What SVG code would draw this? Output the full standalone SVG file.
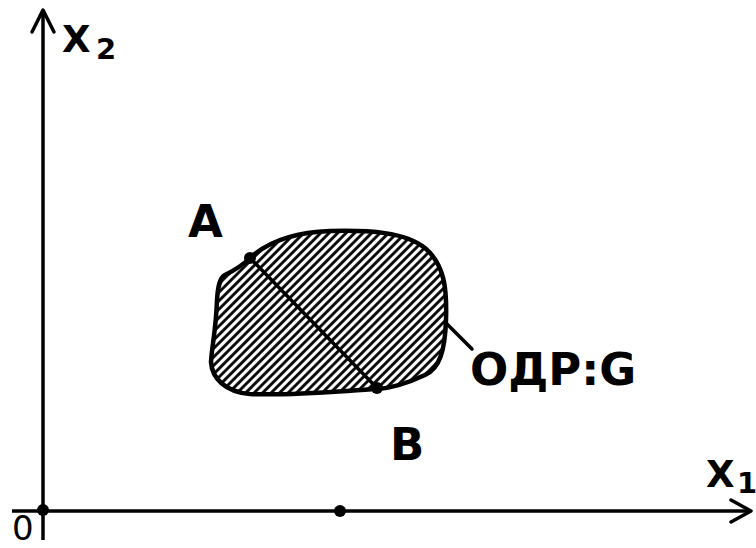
<svg xmlns="http://www.w3.org/2000/svg" width="756" height="548" viewBox="0 0 756 548">
<style>
.ax{stroke:#000;stroke-width:3.5;fill:none}
.ln{stroke:#000;stroke-width:3.5;fill:none;stroke-linecap:round;stroke-linejoin:round}
.lb{font-family:"DejaVu Sans",Verdana,sans-serif;font-weight:bold;fill:#000}
.dot{fill:#000}
</style>
<defs>
<pattern id="hatch" width="6" height="6" patternUnits="userSpaceOnUse" patternTransform="rotate(45)">
<rect width="6" height="6" fill="#fff"/>
<line x1="1.5" y1="0" x2="1.5" y2="6" stroke="#000" stroke-width="2.8"/>
</pattern>
</defs>
<rect width="756" height="548" fill="#fff"/>
<g id="axes">
<line class="ax" x1="43" y1="10" x2="43" y2="540"/>
<polyline class="ln" points="32,32 43,10 54,32"/>
<line class="ax" x1="12" y1="511" x2="751" y2="511"/>
<polyline class="ln" points="731,500 751,511 731,522"/>
<text class="lb" x="62" y="52" font-size="37">X</text>
<text class="lb" x="96" y="59" font-size="29">2</text>
<text class="lb" x="706" y="487" font-size="37">X</text>
<text class="lb" x="737" y="493" font-size="29">1</text>
<text x="12" y="540" font-family="DejaVu Sans,Verdana,sans-serif" font-size="34">0</text>
<circle class="dot" cx="43" cy="510" r="6"/>
<circle class="dot" cx="340" cy="511" r="6"/>
</g>
<g id="region">
<path d="M250,258 C270,240 300,232 330,231 C370,230 405,232 425,248 C445,265 447,290 446,320 C445,350 440,368 425,375 C410,382 395,388 377,389 C340,391 290,396 250,394 C225,392 212,378 211,362 C212,345 216,330 217,300 C218,285 220,278 225,275 C235,270 243,265 250,258 Z" fill="url(#hatch)" stroke="#000" stroke-width="4.5"/>
</g>
<g id="connectors">
<line class="ln" x1="250" y1="258" x2="377" y2="388" stroke-width="4.5"/>
<line class="ln" x1="447" y1="324" x2="472" y2="349" stroke-width="3"/>
</g>
<g id="pointA">
<circle class="dot" cx="250" cy="258" r="6"/>
<text class="lb" x="188" y="237" font-size="45">A</text>
</g>
<g id="pointB">
<circle class="dot" cx="377" cy="388" r="6"/>
<text class="lb" x="390" y="460" font-size="45">B</text>
</g>
<g id="labelG">
<text class="lb" x="470" y="385" font-size="45">ОДР:G</text>
</g>
</svg>
